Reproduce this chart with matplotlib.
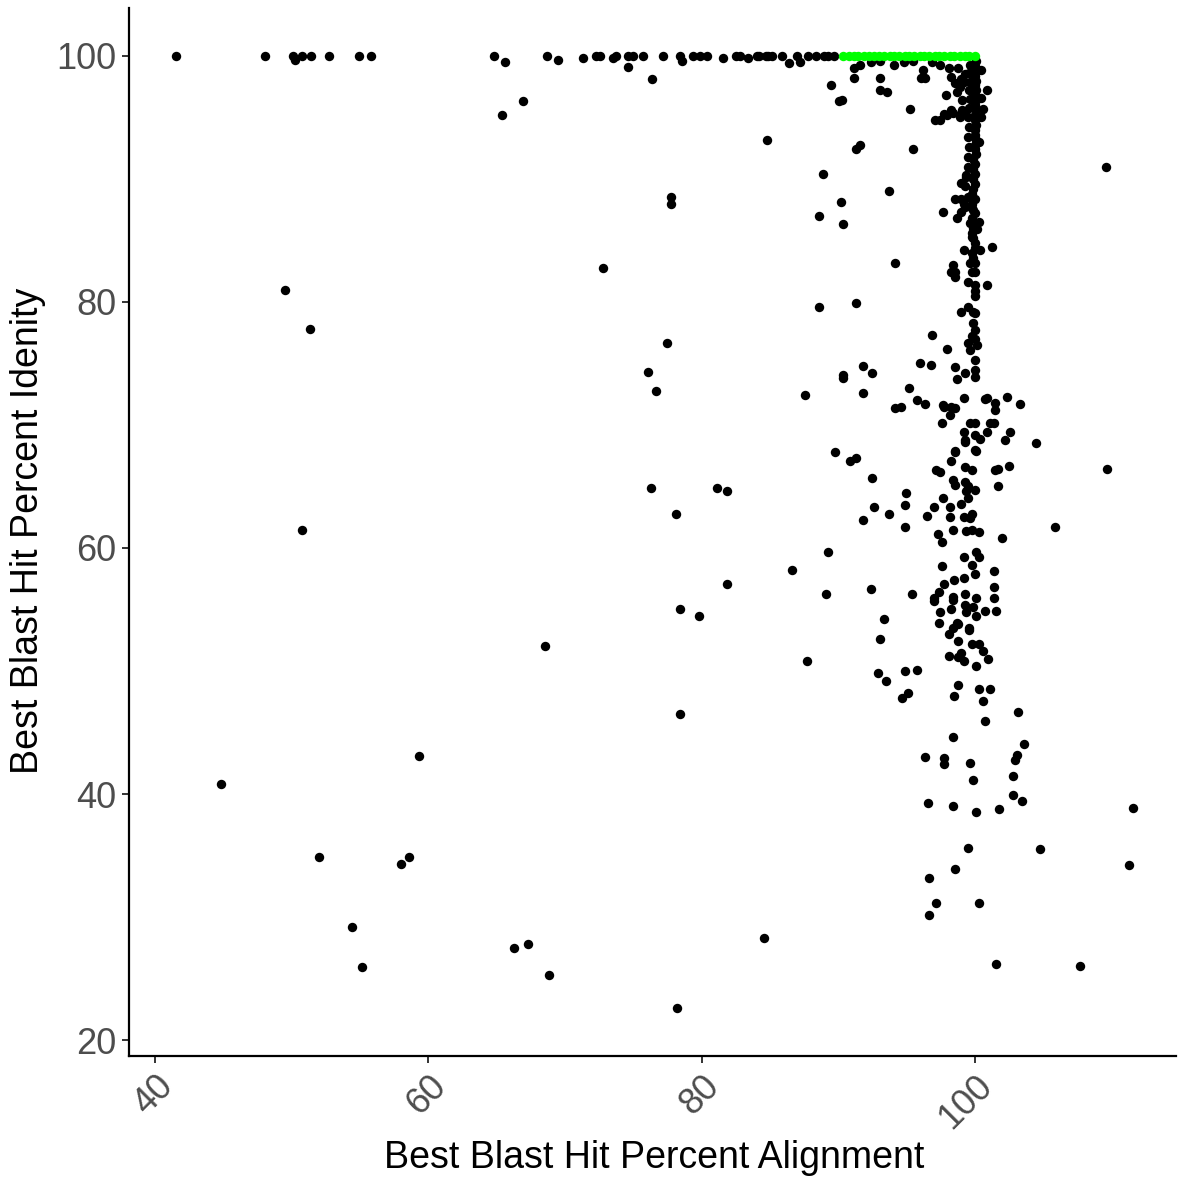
import matplotlib
matplotlib.use("Agg")
import matplotlib.pyplot as plt
import numpy as np

# points, (alignment %, identity %)
top_row = [(41.5, 100), (48.0, 100), (50.1, 100), (50.2, 99.7), (50.7, 100), (51.4, 100),
           (52.7, 100), (54.9, 100), (55.8, 100), (64.8, 100), (65.6, 99.5), (68.7, 100),
           (69.5, 99.7), (71.3, 99.8), (72.3, 100), (72.6, 100), (73.5, 99.8), (73.7, 100),
           (74.6, 100), (74.6, 99.1), (75.0, 100), (75.7, 100), (76.4, 98.1), (77.2, 100),
           (78.4, 100), (78.6, 99.6), (79.4, 100), (79.9, 100), (80.4, 100), (81.6, 99.8),
           (82.5, 100), (82.8, 100), (83.4, 99.8), (84.1, 100), (84.2, 100), (84.7, 100),
           (84.9, 100), (85.2, 100), (85.9, 100), (86.4, 99.4), (87.0, 100), (87.2, 99.5),
           (87.8, 100), (88.4, 100), (89.0, 100), (89.3, 100), (89.7, 100), (65.4, 95.2),
           (66.9, 96.3)]

upper = [(91.2, 99.0), (91.6, 99.3), (92.4, 99.5), (93.1, 99.6), (94.1, 99.3), (94.8, 99.5),
         (95.5, 99.6), (96.9, 99.5), (97.5, 99.3), (91.2, 98.2), (93.1, 98.2), (93.1, 97.2),
         (93.6, 97.1), (89.5, 97.6), (90.1, 96.3), (90.3, 96.4), (95.3, 95.7), (96.1, 98.2),
         (96.4, 98.2), (96.2, 98.9), (97.1, 94.8), (97.9, 96.8), (97.8, 95.3), (98.3, 95.6),
         (98.9, 95.2), (99.1, 95.6), (98.1, 99.0), (98.3, 98.3), (98.8, 99.0), (99.0, 98.1),
         (98.7, 97.1), (99.1, 96.4), (98.6, 97.8), (98.9, 97.5), (99.2, 97.9), (99.3, 98.5),
         (98.0, 95.2), (98.4, 95.4), (99.2, 95.4), (98.9, 95.0), (97.5, 94.8), (100.5, 98.9),
         (100.9, 97.2), (100.6, 95.7), (100.5, 96.6), (100.5, 95.0), (100.3, 93.0), (84.8, 93.2),
         (91.3, 92.4), (91.6, 92.8), (95.5, 92.4), (88.9, 90.4), (93.7, 89.0), (90.2, 88.1),
         (88.6, 87.0), (90.4, 86.3), (97.7, 87.3), (98.6, 88.4), (99.0, 88.4), (99.2, 88.0),
         (99.0, 87.3), (98.7, 86.8), (99.0, 89.7), (99.4, 90.3), (99.5, 88.5), (99.3, 87.7),
         (99.9, 87.5), (100.3, 86.5), (100.0, 86.0), (99.8, 85.3), (100.0, 84.8), (100.4, 84.2),
         (99.2, 84.2), (101.3, 84.5), (100.2, 85.9), (98.4, 83.0), (98.6, 82.4), (99.7, 83.2),
         (99.8, 82.4), (94.2, 83.2)]

column = [(100.1, 99.6), (100.0, 99.2), (100.1, 98.8), (100.0, 98.4), (100.1, 98.0), (100.0, 97.6),
          (100.1, 97.2), (100.0, 96.8), (100.1, 96.4), (100.0, 96.0), (100.1, 95.6), (100.0, 95.2),
          (100.0, 94.8), (100.1, 94.4), (100.0, 94.0), (100.0, 93.6), (100.1, 93.2), (100.0, 92.8),
          (100.0, 92.4), (100.1, 92.0), (99.9, 91.6), (100.0, 91.2), (99.9, 90.8), (100.0, 90.4),
          (99.9, 90.0), (100.0, 89.6), (99.9, 89.2), (99.8, 88.8), (100.0, 88.4), (99.8, 88.0),
          (99.8, 87.6), (100.0, 87.2), (99.8, 86.8), (99.7, 86.4), (99.9, 86.0), (99.8, 85.6),
          (99.9, 85.2), (100.0, 84.4), (99.8, 84.0), (99.9, 83.6), (100.0, 83.2), (99.7, 99.3),
          (99.6, 98.6), (99.7, 97.9), (99.6, 97.2), (99.7, 96.5), (99.6, 95.8), (99.5, 95.0),
          (99.6, 94.2), (99.5, 93.4), (99.6, 92.6), (99.5, 91.8), (99.5, 91.0), (99.4, 90.2),
          (99.3, 89.4), (100.0, 80.9), (99.9, 78.3), (100.0, 77.0)]

middle = [(98.3, 82.4), (98.6, 82.0), (99.5, 81.6), (100.0, 82.4), (100.0, 81.4), (100.9, 81.4),
          (100.0, 80.5), (99.0, 79.2), (99.5, 79.6), (99.9, 79.2), (100.0, 79.1), (100.0, 77.7),
          (99.8, 77.2), (99.5, 76.7), (99.7, 76.1), (100.2, 76.5), (98.0, 76.2), (100.0, 75.3),
          (98.6, 74.7), (98.7, 73.7), (99.3, 74.2), (100.0, 74.5), (100.0, 73.9), (99.2, 72.2),
          (100.9, 72.2), (101.5, 71.8), (101.5, 71.2), (97.7, 71.6), (98.3, 71.5), (98.2, 70.8),
          (97.6, 70.2), (99.7, 70.2), (100.0, 70.2), (101.1, 70.2), (99.2, 69.4), (100.0, 69.2),
          (100.4, 68.9), (100.9, 69.4), (99.3, 68.6), (98.6, 67.8), (100.0, 68.0), (98.3, 67.1),
          (99.3, 66.6), (99.8, 66.3), (101.5, 66.3), (98.4, 65.5), (99.3, 65.4), (99.5, 65.0),
          (100.0, 64.7), (101.7, 65.0), (97.5, 66.2), (88.6, 79.6), (91.3, 79.9), (96.9, 77.3),
          (96.0, 75.0), (96.8, 74.9), (90.4, 74.1), (90.4, 73.8), (92.5, 74.2), (91.8, 72.6),
          (95.2, 73.0), (95.8, 72.0), (96.4, 71.7), (94.2, 71.4), (94.6, 71.5), (98.6, 71.4),
          (100.8, 72.1), (102.4, 72.3), (103.3, 71.7), (102.6, 69.4), (99.3, 68.8), (102.2, 68.8),
          (104.5, 68.5), (101.4, 70.2), (89.8, 67.8), (90.9, 67.1), (91.3, 67.3), (98.6, 67.9),
          (100.1, 67.9), (97.2, 66.3), (101.7, 66.4), (102.5, 66.7), (92.5, 65.7), (98.6, 65.1),
          (99.4, 64.6), (99.5, 64.1), (95.0, 64.5), (97.7, 64.1), (87.6, 72.4), (91.8, 74.8),
          (97.8, 71.5)]

lower = [(94.9, 63.5), (94.9, 61.7), (97.0, 63.3), (96.5, 62.6), (98.2, 63.3), (98.2, 62.5),
         (99.0, 63.6), (92.6, 63.3), (93.7, 62.8), (91.8, 62.3), (99.2, 62.5), (99.8, 62.8),
         (99.7, 62.4), (98.4, 61.5), (99.4, 61.4), (99.8, 61.5), (100.3, 61.3), (102.0, 60.8),
         (97.3, 61.1), (97.6, 60.5), (89.3, 59.7), (100.1, 59.7), (100.3, 59.3), (99.2, 59.3),
         (99.8, 58.6), (100.0, 57.9), (97.6, 58.5), (101.4, 58.1), (99.2, 57.6), (98.5, 57.4),
         (97.8, 57.1), (97.4, 56.4), (97.0, 55.9), (89.1, 56.3), (92.4, 56.7), (95.4, 56.3),
         (101.4, 56.8), (98.4, 56.0), (99.3, 56.3), (100.1, 55.9), (101.4, 55.9), (98.3, 55.0),
         (99.3, 55.4), (99.4, 54.8), (99.9, 55.2), (100.8, 54.9), (101.6, 54.9), (97.5, 54.8),
         (97.4, 53.9), (93.4, 54.2), (100.1, 54.5), (98.7, 53.9), (99.6, 53.5), (98.4, 53.5),
         (97.0, 55.7), (98.4, 55.8)]

bottom = [(93.1, 52.6), (98.8, 53.8), (98.1, 53.0), (99.6, 53.3), (98.8, 52.4), (99.8, 52.2),
          (100.3, 52.2), (100.6, 51.6), (98.1, 51.2), (99.0, 51.5), (98.8, 51.1), (99.2, 50.8),
          (100.1, 50.4), (101.0, 51.0), (92.9, 49.8), (93.5, 49.2), (94.9, 50.0), (95.8, 50.1),
          (94.7, 47.8), (95.1, 48.2), (98.8, 48.9), (98.5, 48.0), (100.3, 48.5), (101.1, 48.5),
          (100.6, 47.6), (103.2, 46.7), (100.8, 45.9), (98.4, 44.6), (103.6, 44.1), (103.1, 43.2),
          (103.0, 42.8), (96.4, 43.0), (97.8, 42.9), (97.8, 42.4), (99.7, 42.5), (99.9, 41.1),
          (102.8, 41.5), (96.6, 39.3), (98.4, 39.0), (100.1, 38.5), (101.8, 38.8), (102.8, 39.9),
          (103.5, 39.4), (99.5, 35.6), (104.8, 35.5), (98.6, 33.9), (96.7, 33.2), (97.2, 31.1),
          (96.7, 30.2), (100.3, 31.1), (101.6, 26.2), (107.7, 26.0), (111.3, 34.2), (111.6, 38.9)]

scattered = [(44.8, 40.8), (49.5, 81.0), (51.3, 77.8), (50.7, 61.5), (52.0, 34.9), (54.4, 29.2),
             (55.1, 25.9), (58.0, 34.3), (58.6, 34.9), (59.3, 43.1), (66.3, 27.5), (67.3, 27.8),
             (68.8, 25.3), (68.5, 52.0), (72.8, 82.8), (77.5, 76.7), (76.1, 74.3), (76.7, 72.8),
             (76.3, 64.9), (77.8, 88.5), (77.8, 88.0), (78.1, 62.8), (78.4, 55.0), (78.4, 46.5),
             (78.2, 22.6), (79.8, 54.5), (81.1, 64.9), (81.9, 64.6), (81.9, 57.1), (84.6, 28.3),
             (86.6, 58.2), (87.7, 50.8), (109.6, 91.0), (109.7, 66.4), (105.9, 61.7)]

# highlighted hits (perfect identity, alignment >= 90)
green_x = [90.4, 90.8, 91.2, 91.5, 91.9, 92.3, 92.6, 93.0, 93.4, 93.8, 94.1, 94.5, 94.9, 95.2,
           95.6, 96.0, 96.3, 96.7, 97.1, 97.4, 97.8, 98.2, 98.5, 98.9, 99.3, 99.6, 100.0]
green_y = [100] * len(green_x)

x_ticks = [40, 60, 80, 100]
y_ticks = [20, 40, 60, 80, 100]

pts = np.array(top_row + upper + column + middle + lower + bottom + scattered)

plt.rcParams['font.family'] = ['Liberation Sans', 'DejaVu Sans']

fig = plt.figure(figsize=(11.78, 11.79), dpi=100)
ax = fig.add_axes([129 / 1178, 123 / 1179, 1047 / 1178, 1048 / 1179])

ax.scatter(pts[:, 0], pts[:, 1], s=46, c='black', linewidths=0, zorder=2)
ax.scatter(green_x, green_y, s=46, c='#00FF00', linewidths=0, zorder=3)

ax.set_xlim(38.06, 114.76)
ax.set_ylim(18.7, 103.9)

ax.set_xticks(x_ticks)
ax.set_yticks(y_ticks)
ax.set_xticklabels([str(t) for t in x_ticks], rotation=45, ha='right', va='top',
                   rotation_mode='anchor')
ax.tick_params(axis='both', labelsize=26, labelcolor='#4D4D4D', color='#333333',
               length=5, width=1.4, pad=4)

for side in ['top', 'right']:
    ax.spines[side].set_visible(False)
for side in ['left', 'bottom']:
    ax.spines[side].set_linewidth(1.6)
    ax.spines[side].set_color('black')

ax.set_xlabel('Best Blast Hit Percent Alignment', fontsize=27)
ax.set_ylabel('Best Blast Hit Percent Idenity', fontsize=27)
ax.xaxis.set_label_coords(0.502, -0.080)
ax.yaxis.set_label_coords(-0.079, 0.501)

fig.savefig('out.png', dpi=100)
